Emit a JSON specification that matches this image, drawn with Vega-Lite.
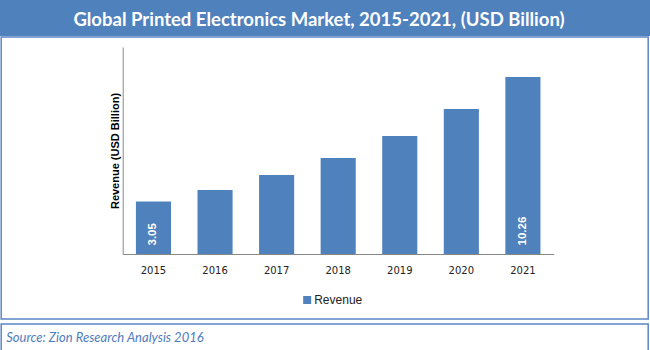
{
  "$schema": "https://vega.github.io/schema/vega-lite/v6.json",
  "padding": 0,
  "background": "white",
  "spacing": 0,
  "center": true,
  "config": {"view": {"stroke": null}, "font": "Liberation Sans"},
  "resolve": {"scale": {"x": "independent", "y": "independent", "color": "independent"}},
  "vconcat": [
    {
      "width": 650,
      "height": 36,
      "view": {"fill": "#4F81BD", "stroke": null},
      "data": {"values": [{"title": "Global Printed Electronics Market, 2015-2021, (USD Billion)"}]},
      "mark": {"type": "text", "font": "Lato", "fontWeight": "bold", "fontSize": 18.5, "color": "white", "dy": 1.5, "dx": -6},
      "encoding": {"text": {"field": "title"}}
    },
    {
      "spacing": 3,
      "center": true,
      "resolve": {"scale": {"x": "independent", "y": "independent", "color": "independent"}},
      "vconcat": [
        {
          "width": 647,
          "height": 282,
          "view": {"fill": "white", "stroke": "#5B87C5", "strokeWidth": 1.5},
          "data": {"values": [
            {"year": 2015, "revenue": 3.05},
            {"year": 2016, "revenue": 3.71},
            {"year": 2017, "revenue": 4.58},
            {"year": 2018, "revenue": 5.57},
            {"year": 2019, "revenue": 6.84},
            {"year": 2020, "revenue": 8.41},
            {"year": 2021, "revenue": 10.26}
          ]},
          "encoding": {
            "x": {
              "field": "year",
              "type": "ordinal",
              "scale": {"range": [121.5, 552.5], "paddingInner": 0.43, "paddingOuter": 0.215},
              "axis": {
                "title": null,
                "orient": "bottom",
                "offset": -65,
                "ticks": false,
                "labelAngle": 0,
                "labelPadding": 11,
                "labelFont": "DejaVu Sans",
                "labelFontSize": 10,
                "labelColor": "#222",
                "domainColor": "#888",
                "domainWidth": 1,
                "grid": false
              }
            }
          },
          "layer": [
            {
              "mark": {"type": "bar"},
              "encoding": {
                "y": {
                  "field": "revenue",
                  "type": "quantitative",
                  "scale": {"domain": [0, 12], "range": [217, 10], "nice": false},
                  "axis": {
                    "title": "Revenue (USD Billion)",
                    "orient": "left",
                    "offset": -121.5,
                    "labels": false,
                    "ticks": false,
                    "grid": false,
                    "minExtent": 0,
                    "domainColor": "#888",
                    "domainWidth": 1,
                    "titleFont": "Liberation Sans",
                    "titleFontSize": 11,
                    "titleFontWeight": "bold",
                    "titleColor": "#000",
                    "titlePadding": 2
                  }
                },
                "color": {
                  "datum": "Revenue",
                  "type": "nominal",
                  "scale": {"range": ["#4F81BD"]},
                  "legend": {
                    "title": null,
                    "orient": "none",
                    "legendX": 300,
                    "legendY": 257,
                    "padding": 0,
                    "symbolType": "square",
                    "symbolSize": 64,
                    "symbolStrokeWidth": 0,
                    "labelFont": "Liberation Sans",
                    "labelFontSize": 12,
                    "labelColor": "#222",
                    "labelOffset": 1
                  }
                }
              }
            },
            {
              "transform": [{"filter": "datum.year == 2015 || datum.year == 2021"}],
              "mark": {"type": "text", "angle": 270, "align": "left", "baseline": "middle", "dx": 8.5, "color": "white", "fontWeight": "bold", "fontSize": 11.5, "font": "Liberation Sans"},
              "encoding": {
                "y": {"datum": 0, "type": "quantitative"},
                "text": {"field": "revenue", "type": "quantitative", "format": ".2f"}
              }
            }
          ]
        },
        {
          "width": 647,
          "height": 27,
          "view": {"fill": "white", "stroke": "#5B87C5", "strokeWidth": 1.5},
          "data": {"values": [{"source": "Source: Zion Research Analysis 2016"}]},
          "mark": {"type": "text", "align": "left", "dx": 5, "font": "Lato", "fontStyle": "italic", "fontSize": 13, "color": "#4F7CBF"},
          "encoding": {
            "x": {"datum": 0, "type": "quantitative", "scale": {"domain": [0, 1]}, "axis": null},
            "text": {"field": "source"}
          }
        }
      ]
    }
  ]
}
